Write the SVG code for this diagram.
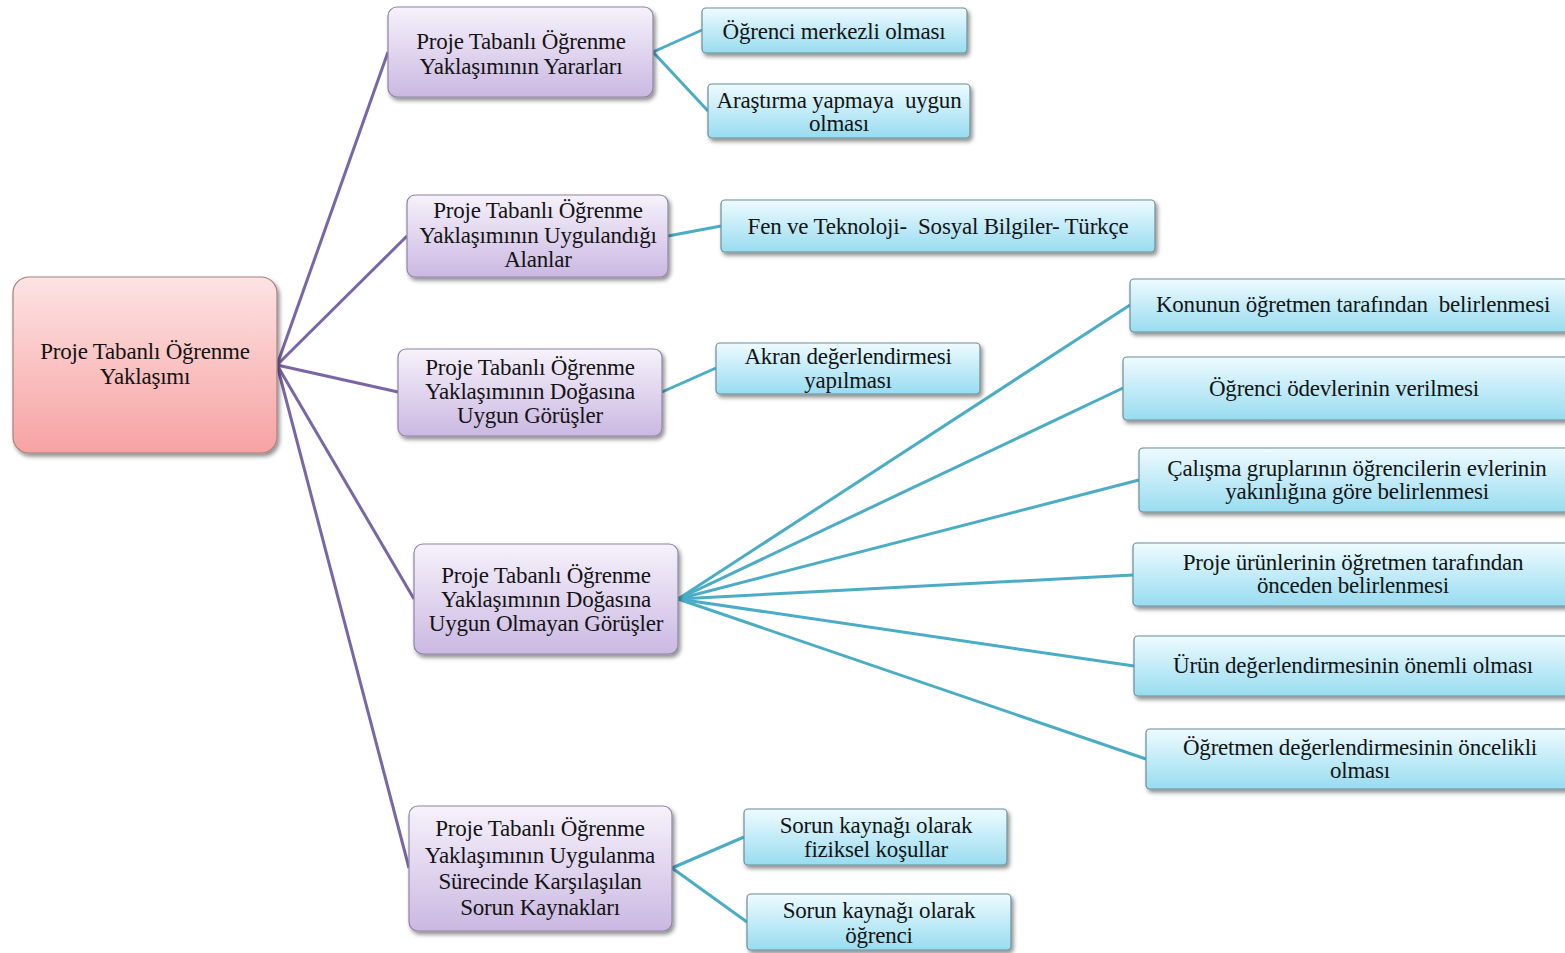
<svg xmlns="http://www.w3.org/2000/svg" width="1565" height="953" viewBox="0 0 1565 953">
  <defs>
    <linearGradient id="gRoot" x1="0" y1="0" x2="0" y2="1">
      <stop offset="0" stop-color="#fde3e3"/>
      <stop offset="1" stop-color="#f7a2a2"/>
    </linearGradient>
    <linearGradient id="gMid" x1="0" y1="0" x2="0" y2="1">
      <stop offset="0" stop-color="#f6f2fb"/>
      <stop offset="1" stop-color="#cbb8e2"/>
    </linearGradient>
    <linearGradient id="gLeaf" x1="0" y1="0" x2="0" y2="1">
      <stop offset="0" stop-color="#eefbff"/>
      <stop offset="1" stop-color="#98dcf0"/>
    </linearGradient>
    <filter id="shadow" x="-10%" y="-20%" width="125%" height="150%">
      <feDropShadow dx="2" dy="3" stdDeviation="2" flood-color="#000" flood-opacity="0.45"/>
    </filter>
  </defs>
  <style>
    .root { fill: url(#gRoot); stroke: #a88080; stroke-width: 1.2; filter: url(#shadow); }
    .mid { fill: url(#gMid); stroke: #8f84a3; stroke-width: 1.2; filter: url(#shadow); }
    .leaf { fill: url(#gLeaf); stroke: #6d8e98; stroke-width: 1.2; filter: url(#shadow); }
    text { font-family: "Liberation Serif", "Times New Roman", serif; font-size: 23px; fill: #141414; text-anchor: middle; letter-spacing: -0.2px; white-space: pre; }
    .c1 { stroke: #7a65a6; stroke-width: 3; fill: none; }
    .c2 { stroke: #4aacc5; stroke-width: 3; fill: none; }
  </style>
  <rect width="1565" height="953" fill="#ffffff"/>

  <g id="connectors">
    <line class="c1" x1="277" y1="365" x2="388" y2="52"/>
    <line class="c1" x1="277" y1="365" x2="407" y2="236"/>
    <line class="c1" x1="277" y1="365" x2="398" y2="392"/>
    <line class="c1" x1="277" y1="365" x2="414" y2="599"/>
    <line class="c1" x1="277" y1="365" x2="409" y2="868"/>
    <line class="c2" x1="653" y1="52" x2="702" y2="30"/>
    <line class="c2" x1="653" y1="52" x2="708" y2="111"/>
    <line class="c2" x1="668" y1="236" x2="721" y2="226"/>
    <line class="c2" x1="662" y1="392" x2="716" y2="368"/>
    <line class="c2" x1="678" y1="599" x2="1130" y2="305"/>
    <line class="c2" x1="678" y1="599" x2="1123" y2="388"/>
    <line class="c2" x1="678" y1="599" x2="1139" y2="480"/>
    <line class="c2" x1="678" y1="599" x2="1133" y2="575"/>
    <line class="c2" x1="678" y1="599" x2="1134" y2="666"/>
    <line class="c2" x1="678" y1="599" x2="1146" y2="759"/>
    <line class="c2" x1="672" y1="868" x2="744" y2="837"/>
    <line class="c2" x1="672" y1="868" x2="747" y2="922"/>
  </g>

  <g id="root">
    <rect class="root" x="13" y="277" width="264" height="176" rx="16"/>
    <text x="145" y="359">Proje Tabanlı Öğrenme</text>
    <text x="145" y="384">Yaklaşımı</text>
  </g>

  <g id="yararlar">
    <rect class="mid" x="388" y="7" width="265" height="90" rx="9"/>
    <text x="521" y="49">Proje Tabanlı Öğrenme</text>
    <text x="521" y="74">Yaklaşımının Yararları</text>
  </g>
  <g id="alanlar">
    <rect class="mid" x="407" y="195" width="261" height="82" rx="8"/>
    <text x="538" y="218">Proje Tabanlı Öğrenme</text>
    <text x="538" y="243">Yaklaşımının Uygulandığı</text>
    <text x="538" y="267">Alanlar</text>
  </g>
  <g id="uygun">
    <rect class="mid" x="398" y="349" width="264" height="87" rx="8"/>
    <text x="530" y="375">Proje Tabanlı Öğrenme</text>
    <text x="530" y="399">Yaklaşımının Doğasına</text>
    <text x="530" y="423">Uygun Görüşler</text>
  </g>
  <g id="uygun-olmayan">
    <rect class="mid" x="414" y="544" width="264" height="110" rx="9"/>
    <text x="546" y="583">Proje Tabanlı Öğrenme</text>
    <text x="546" y="607">Yaklaşımının Doğasına</text>
    <text x="546" y="631">Uygun Olmayan Görüşler</text>
  </g>
  <g id="sorunlar">
    <rect class="mid" x="409" y="806" width="263" height="125" rx="9"/>
    <text x="540" y="836">Proje Tabanlı Öğrenme</text>
    <text x="540" y="863">Yaklaşımının Uygulanma</text>
    <text x="540" y="889">Sürecinde Karşılaşılan</text>
    <text x="540" y="915">Sorun Kaynakları</text>
  </g>

  <g id="leaf-ogrenci-merkezli">
    <rect class="leaf" x="702" y="8" width="265" height="45" rx="4"/>
    <text x="834" y="39">Öğrenci merkezli olması</text>
  </g>
  <g id="leaf-arastirma">
    <rect class="leaf" x="708" y="84" width="262" height="54" rx="4"/>
    <text x="839" y="108">Araştırma yapmaya  uygun</text>
    <text x="839" y="131">olması</text>
  </g>
  <g id="leaf-alanlar">
    <rect class="leaf" x="721" y="200" width="434" height="52" rx="4"/>
    <text x="938" y="234">Fen ve Teknoloji-  Sosyal Bilgiler- Türkçe</text>
  </g>
  <g id="leaf-akran">
    <rect class="leaf" x="716" y="343" width="264" height="51" rx="4"/>
    <text x="848" y="364">Akran değerlendirmesi</text>
    <text x="848" y="388">yapılması</text>
  </g>
  <g id="leaf-konu">
    <rect class="leaf" x="1130" y="279" width="440" height="53" rx="4"/>
    <text x="1353" y="312">Konunun öğretmen tarafından  belirlenmesi</text>
  </g>
  <g id="leaf-odev">
    <rect class="leaf" x="1123" y="357" width="447" height="63" rx="4"/>
    <text x="1344" y="396">Öğrenci ödevlerinin verilmesi</text>
  </g>
  <g id="leaf-gruplar">
    <rect class="leaf" x="1139" y="448" width="431" height="64" rx="4"/>
    <text x="1357" y="476">Çalışma gruplarının öğrencilerin evlerinin</text>
    <text x="1357" y="499">yakınlığına göre belirlenmesi</text>
  </g>
  <g id="leaf-urunler">
    <rect class="leaf" x="1133" y="543" width="437" height="63" rx="4"/>
    <text x="1353" y="570">Proje ürünlerinin öğretmen tarafından</text>
    <text x="1353" y="593">önceden belirlenmesi</text>
  </g>
  <g id="leaf-urun-deger">
    <rect class="leaf" x="1134" y="636" width="436" height="60" rx="4"/>
    <text x="1353" y="673">Ürün değerlendirmesinin önemli olması</text>
  </g>
  <g id="leaf-ogretmen-deger">
    <rect class="leaf" x="1146" y="729" width="424" height="60" rx="4"/>
    <text x="1360" y="755">Öğretmen değerlendirmesinin öncelikli</text>
    <text x="1360" y="778">olması</text>
  </g>
  <g id="leaf-fiziksel">
    <rect class="leaf" x="744" y="809" width="263" height="56" rx="4"/>
    <text x="876" y="833">Sorun kaynağı olarak</text>
    <text x="876" y="857">fiziksel koşullar</text>
  </g>
  <g id="leaf-ogrenci">
    <rect class="leaf" x="747" y="894" width="264" height="56" rx="4"/>
    <text x="879" y="918">Sorun kaynağı olarak</text>
    <text x="879" y="943">öğrenci</text>
  </g>
</svg>
